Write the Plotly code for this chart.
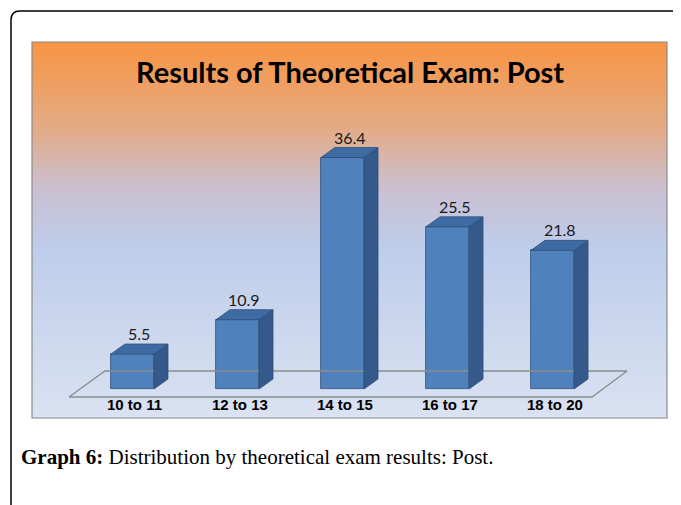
import plotly.graph_objects as go

categories = ["10 to 11", "12 to 13", "14 to 15", "16 to 17", "18 to 20"]
values = [5.5, 10.9, 36.4, 25.5, 21.8]
title_text = "Results of Theoretical Exam: Post"

OFF = 8  # page body margin
W, H = 681 - OFF, 505 - OFF
# plot box in page pixels
PX0, PX1, PY0, PY1 = 32, 667, 42, 418
XR = [-0.957, 5.09]
YR = [-4.56, 54.56]

BW = 0.41      # bar width (category units)
DX = 0.133     # 3D depth x
DY = 1.57      # 3D depth y

front_col = "#4F81BD"
side_col = "#34598A"
top_col = "#3E6BA3"
edge_col = "#2E4E78"


def px(x):
    return (x - OFF) / W


def py(y):
    return 1 - (y - OFF) / H


fig = go.Figure()

# floor parallelogram
n = len(categories)
fl_front_y, fl_back_y = -1.26, 2.83
fx = [-0.605, n - 1 + 0.376, n - 1 + 0.71, -0.262, -0.605]
fy = [fl_front_y, fl_front_y, fl_back_y, fl_back_y, fl_front_y]
fig.add_trace(go.Scatter(x=fx, y=fy, mode="lines",
                         line=dict(color="#8C8C8C", width=1.3),
                         hoverinfo="skip", showlegend=False))

# front faces
xs = list(range(n))
fig.add_trace(go.Bar(x=xs, y=values, width=BW, marker=dict(color=front_col,
                     line=dict(color=edge_col, width=0.8)), showlegend=False,
                     hoverinfo="skip"))

# side & top faces
sx, sy, tx, ty = [], [], [], []
for i, v in zip(xs, values):
    r = i + BW / 2
    l = i - BW / 2
    sx += [r, r + DX, r + DX, r, r, None]
    sy += [0, DY, v + DY, v, 0, None]
    tx += [l, l + DX, r + DX, r, l, None]
    ty += [v, v + DY, v + DY, v, v, None]
fig.add_trace(go.Scatter(x=sx, y=sy, mode="lines", fill="toself", fillcolor=side_col,
                         line=dict(color=edge_col, width=0.8), hoverinfo="skip", showlegend=False))
fig.add_trace(go.Scatter(x=tx, y=ty, mode="lines", fill="toself", fillcolor=top_col,
                         line=dict(color=edge_col, width=0.8), hoverinfo="skip", showlegend=False))

annotations = []
for i, v in zip(xs, values):
    annotations.append(dict(x=i + DX / 2, y=v + DY, xref="x", yref="y", text=str(v),
                            showarrow=False, yanchor="bottom", yshift=-1,
                            font=dict(family="Lato", size=16, color="#1a1a1a")))
for i, c in zip(xs, categories):
    annotations.append(dict(x=i + 0.02, y=-2.5, xref="x", yref="y", text="<b>" + c + "</b>",
                            showarrow=False, yanchor="middle",
                            font=dict(family="Liberation Sans", size=15, color="#000")))

annotations.append(dict(x=px(350), y=py(72), xref="paper", yref="paper",
                        text="<b>" + title_text + "</b>", showarrow=False,
                        xanchor="center", yanchor="middle",
                        font=dict(family="Lato", size=29, color="#000")))
annotations.append(dict(x=px(19), y=py(457), xref="paper", yref="paper",
                        text="<b>Graph 6:</b> Distribution by theoretical exam results: Post.",
                        showarrow=False, xanchor="left", yanchor="middle",
                        font=dict(family="Liberation Serif", size=21, color="#000")))

# background gradient bands (below traces)
stops = [
    (42, (248, 148, 68)),
    (80, (240, 158, 95)),
    (130, (226, 172, 136)),
    (190, (202, 192, 210)),
    (250, (190, 205, 235)),
    (340, (205, 216, 238)),
    (418, (218, 226, 242)),
]
shapes = []
NB = 94
for k in range(NB):
    y0 = PY0 + (PY1 - PY0) * k / NB
    y1 = PY0 + (PY1 - PY0) * (k + 1) / NB
    ym = (y0 + y1) / 2
    for j in range(len(stops) - 1):
        if stops[j][0] <= ym <= stops[j + 1][0]:
            t = (ym - stops[j][0]) / (stops[j + 1][0] - stops[j][0])
            c = tuple(round(stops[j][1][m] + t * (stops[j + 1][1][m] - stops[j][1][m])) for m in range(3))
            break
    shapes.append(dict(type="rect", xref="paper", yref="paper", x0=px(PX0), x1=px(PX1),
                       y0=py(y1 + 0.5), y1=py(y0), line=dict(width=0),
                       fillcolor="rgb(%d,%d,%d)" % c, layer="below"))

shapes += [
    dict(type="rect", xref="paper", yref="paper", x0=px(PX0), x1=px(PX1), y0=py(PY1), y1=py(PY0),
         line=dict(color="#8A8A8A", width=1.2), fillcolor="rgba(0,0,0,0)", layer="above"),
    dict(type="path", xref="paper", yref="paper",
         path=f"M {px(11)} {py(505)} L {px(11)} {py(20)} Q {px(11)} {py(11)} {px(20)} {py(11)} L {px(681)} {py(11)}",
         line=dict(color="#000", width=1.5)),
]

fig.update_layout(
    width=W, height=H, margin=dict(l=0, r=0, t=0, b=0),
    paper_bgcolor="white", plot_bgcolor="rgba(0,0,0,0)",
    xaxis=dict(domain=[px(PX0), px(PX1)], range=XR, visible=False, fixedrange=True),
    yaxis=dict(domain=[py(PY1), py(PY0)], range=YR, visible=False, fixedrange=True),
    annotations=annotations, shapes=shapes, showlegend=False, bargap=0,
)

fig.write_html("out.html", config={"displayModeBar": False})
